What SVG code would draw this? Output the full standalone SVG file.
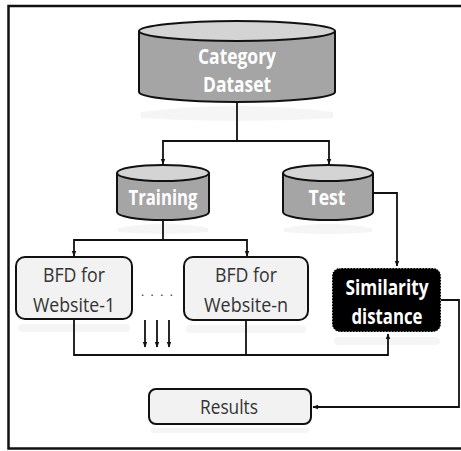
<svg xmlns="http://www.w3.org/2000/svg" width="461" height="451" viewBox="0 0 461 451">
<defs>
<style>
.frame{fill:none;stroke:#111;stroke-width:2.5}
.cylb{fill:#a5a5a5;stroke:#111;stroke-width:2}
.cylt{fill:#d4d4d4;stroke:#111;stroke-width:2}
.box{fill:#f2f2f2;stroke:#111;stroke-width:2}
.wt{font-family:"Open Sans","Noto Sans",sans-serif;font-weight:bold;fill:#fff;text-anchor:middle}
.dt{font-family:"Open Sans","Noto Sans",sans-serif;fill:#333;text-anchor:middle}
.con{fill:none;stroke:#111;stroke-width:1.8}
.refl{fill:#ececec;opacity:0.5}
</style>
<marker id="ah" viewBox="0 0 10 10" refX="9" refY="5" markerWidth="6" markerHeight="6" orient="auto" markerUnits="userSpaceOnUse">
<path d="M0,1 L10,5 L0,9 z" fill="#111"/>
</marker>
</defs>
<rect width="461" height="451" fill="#fff"/>
<path class="frame" d="M470,6 H8.5 V448.5 H470"/>

<g id="reflections">
<path class="refl" d="M141,112 Q237,100 333,112 L333,118 Q237,124 141,118 z"/>
<path class="refl" d="M118,228 Q163,220 208,228 L208,232 Q163,236 118,232 z"/>
<path class="refl" d="M284,228 Q328,220 372,228 L372,232 Q328,236 284,232 z"/>
<rect class="refl" x="18" y="324" width="112" height="8" rx="4"/>
<rect class="refl" x="186" y="325" width="120" height="8" rx="4"/>
<rect class="refl" x="334" y="337" width="106" height="8" rx="4"/>
<rect class="refl" x="151" y="428" width="158" height="5" rx="2"/>
</g>

<g id="category-dataset">
<path class="cylb" d="M139,31 V92 A98,10 0 0 0 335,92 V31"/>
<ellipse class="cylt" cx="237" cy="31" rx="98" ry="10"/>
<text class="wt" x="237" y="64" font-size="21" textLength="78" lengthAdjust="spacingAndGlyphs">Category</text>
<text class="wt" x="237" y="92" font-size="21" textLength="68" lengthAdjust="spacingAndGlyphs">Dataset</text>
</g>

<g id="training">
<path class="cylb" d="M117,173 V212 A46,8 0 0 0 209,212 V173"/>
<ellipse class="cylt" cx="163" cy="173" rx="46" ry="8"/>
<text class="wt" x="163" y="205" font-size="21" textLength="69" lengthAdjust="spacingAndGlyphs">Training</text>
</g>

<g id="test">
<path class="cylb" d="M283,173 V212 A45,8 0 0 0 373,212 V173"/>
<ellipse class="cylt" cx="328" cy="173" rx="45" ry="8"/>
<text class="wt" x="327" y="205" font-size="21" textLength="37" lengthAdjust="spacingAndGlyphs">Test</text>
</g>

<g id="bfd-1">
<rect class="box" x="16" y="257" width="116" height="62" rx="9"/>
<text class="dt" x="74" y="282" font-size="20" textLength="62" lengthAdjust="spacingAndGlyphs">BFD for</text>
<text class="dt" x="74" y="312" font-size="20" textLength="82" lengthAdjust="spacingAndGlyphs">Website-1</text>
</g>

<g id="bfd-n">
<rect class="box" x="184" y="257" width="124" height="63" rx="9"/>
<text class="dt" x="246" y="282" font-size="20" textLength="62" lengthAdjust="spacingAndGlyphs">BFD for</text>
<text class="dt" x="246" y="312" font-size="20" textLength="84" lengthAdjust="spacingAndGlyphs">Website-n</text>
</g>

<g id="dots">
<text class="dt" x="157" y="296" font-size="12" fill="#555" textLength="32" lengthAdjust="spacing">....</text>
</g>

<g id="similarity">
<rect x="332" y="268" width="109" height="64" rx="8" fill="#000" stroke="#fff" stroke-width="1.2" stroke-dasharray="1.5,1.5"/>
<text class="wt" x="387" y="295" font-size="21" textLength="83" lengthAdjust="spacingAndGlyphs">Similarity</text>
<text class="wt" x="387" y="324" font-size="21" textLength="71" lengthAdjust="spacingAndGlyphs">distance</text>
</g>

<g id="results">
<rect class="box" x="149" y="389" width="162" height="35" rx="7"/>
<text class="dt" x="229" y="414" font-size="20" textLength="58" lengthAdjust="spacingAndGlyphs">Results</text>
</g>

<g id="connectors">
<path class="con" d="M237,102 V141 H163 V164" marker-end="url(#ah)"/>
<path class="con" d="M237,141 H329 V164" marker-end="url(#ah)"/>
<path class="con" d="M373,193 H397 V266" marker-end="url(#ah)"/>
<path class="con" d="M163,220 V240 H74 V256" marker-end="url(#ah)"/>
<path class="con" d="M163,240 H247 V256" marker-end="url(#ah)"/>
<path class="con" d="M74,319 V355 H388 V334" marker-end="url(#ah)"/>
<path class="con" d="M246,320 V355"/>
<path class="con" d="M441,300 H459 V407 H313" marker-end="url(#ah)"/>
<path class="con" d="M145,320 V347" marker-end="url(#ah)"/>
<path class="con" d="M157,320 V347" marker-end="url(#ah)"/>
<path class="con" d="M169,320 V347" marker-end="url(#ah)"/>
</g>
</svg>
